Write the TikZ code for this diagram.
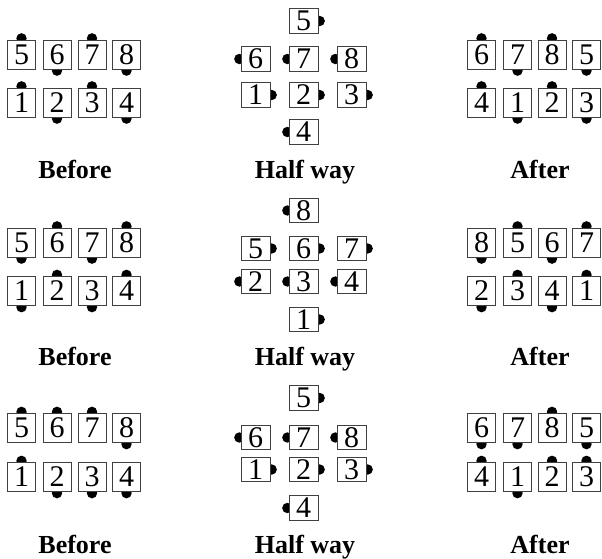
\documentclass[tikz,border=0pt]{standalone}
\usepackage{fontspec}
\setmainfont{Liberation Serif}
\usetikzlibrary{backgrounds,calc}
\tikzset{
  bcard/.style={draw=black!75, line width=0.9pt, fill=white, inner sep=0pt,
    minimum width=28pt, minimum height=29pt, font=\fontsize{30}{32}\selectfont},
  mcard/.style={bcard, minimum width=29pt, minimum height=24.5pt},
  lbl/.style={anchor=base, inner sep=0pt, font=\fontsize{26}{28}\selectfont\bfseries},
  knob/.style={fill=black}
}
\newcommand\crd[6]{% style, name, x, y, digit, anchor
  \node[#1] (#2) at (#3,#4) {#5};
  \begin{scope}[on background layer]\fill[knob] ($(#2.#6)!-1.2pt!(#2.center)$) circle [radius=5.2pt];\end{scope}}
\begin{document}
\begin{tikzpicture}[x=1pt,y=-1pt]
\useasboundingbox (0,0) rectangle (602,559);
% ---------- Panel 1 ----------
\crd{bcard}{aa5}{21.5}{54.5}{5}{north}
\crd{bcard}{aa6}{57}{54.5}{6}{south}
\crd{bcard}{aa7}{92}{54.5}{7}{north}
\crd{bcard}{aa8}{126.5}{54.5}{8}{south}
\crd{bcard}{aa1}{21.5}{102.5}{1}{north}
\crd{bcard}{aa2}{57}{102.5}{2}{south}
\crd{bcard}{aa3}{92}{102.5}{3}{north}
\crd{bcard}{aa4}{126.5}{102.5}{4}{south}
\crd{mcard}{ab5}{303.5}{21}{5}{east}
\crd{mcard}{ab6}{255.5}{59}{6}{west}
\crd{mcard}{ab7}{303.5}{59}{7}{west}
\crd{mcard}{ab8}{351.5}{59}{8}{west}
\crd{mcard}{ab1}{255.5}{95}{1}{east}
\crd{mcard}{ab2}{303.5}{95}{2}{east}
\crd{mcard}{ab3}{351.5}{95}{3}{east}
\crd{mcard}{ab4}{303.5}{132}{4}{west}
\crd{bcard}{ac6}{481.5}{54.5}{6}{north}
\crd{bcard}{ac7}{517.5}{54.5}{7}{south}
\crd{bcard}{ac8}{552}{54.5}{8}{north}
\crd{bcard}{ac5}{586.5}{54.5}{5}{south}
\crd{bcard}{ac4}{481.5}{102.5}{4}{north}
\crd{bcard}{ac1}{517.5}{102.5}{1}{south}
\crd{bcard}{ac2}{552}{102.5}{2}{north}
\crd{bcard}{ac3}{586.5}{102.5}{3}{south}
\node[lbl] (la1) at (75,178) {Before};
\node[lbl] (lb1) at (305,178) {Half way};
\node[lbl] (lc1) at (540,178) {After};
% ---------- Panel 2 ----------
\crd{bcard}{ba5}{21.5}{242.5}{5}{south}
\crd{bcard}{ba6}{57}{242.5}{6}{north}
\crd{bcard}{ba7}{92}{242.5}{7}{south}
\crd{bcard}{ba8}{126.5}{242.5}{8}{north}
\crd{bcard}{ba1}{21.5}{291}{1}{south}
\crd{bcard}{ba2}{57}{291}{2}{north}
\crd{bcard}{ba3}{92}{291}{3}{south}
\crd{bcard}{ba4}{126.5}{291}{4}{north}
\crd{mcard}{bb8}{303.5}{210.5}{8}{west}
\crd{mcard}{bb5}{255.5}{248.5}{5}{east}
\crd{mcard}{bb6}{303.5}{248.5}{6}{east}
\crd{mcard}{bb7}{351.5}{248.5}{7}{east}
\crd{mcard}{bb2}{255.5}{281.5}{2}{west}
\crd{mcard}{bb3}{303.5}{281.5}{3}{west}
\crd{mcard}{bb4}{351.5}{281.5}{4}{west}
\crd{mcard}{bb1}{303.5}{319.5}{1}{east}
\crd{bcard}{bc8}{481.5}{242.5}{8}{south}
\crd{bcard}{bc5}{517.5}{242.5}{5}{north}
\crd{bcard}{bc6}{552}{242.5}{6}{south}
\crd{bcard}{bc7}{586.5}{242.5}{7}{north}
\crd{bcard}{bc2}{481.5}{291}{2}{south}
\crd{bcard}{bc3}{517.5}{291}{3}{north}
\crd{bcard}{bc4}{552}{291}{4}{south}
\crd{bcard}{bc1}{586.5}{291}{1}{north}
\node[lbl] (la2) at (75,365) {Before};
\node[lbl] (lb2) at (305,365) {Half way};
\node[lbl] (lc2) at (540,365) {After};
% ---------- Panel 3 ----------
\crd{bcard}{ca5}{21.5}{428}{5}{north}
\crd{bcard}{ca6}{57}{428}{6}{north}
\crd{bcard}{ca7}{92}{428}{7}{north}
\crd{bcard}{ca8}{126.5}{428}{8}{south}
\crd{bcard}{ca1}{21.5}{477}{1}{north}
\crd{bcard}{ca2}{57}{477}{2}{south}
\crd{bcard}{ca3}{92}{477}{3}{south}
\crd{bcard}{ca4}{126.5}{477}{4}{south}
\crd{mcard}{cb5}{303.5}{398}{5}{east}
\crd{mcard}{cb6}{255.5}{437.5}{6}{west}
\crd{mcard}{cb7}{303.5}{437.5}{7}{west}
\crd{mcard}{cb8}{351.5}{437.5}{8}{west}
\crd{mcard}{cb1}{255.5}{469.5}{1}{east}
\crd{mcard}{cb2}{303.5}{469.5}{2}{east}
\crd{mcard}{cb3}{351.5}{469.5}{3}{east}
\crd{mcard}{cb4}{303.5}{508}{4}{west}
\crd{bcard}{cc6}{481.5}{428}{6}{south}
\crd{bcard}{cc7}{517.5}{428}{7}{south}
\crd{bcard}{cc8}{552}{428}{8}{north}
\crd{bcard}{cc5}{586.5}{428}{5}{south}
\crd{bcard}{cc4}{481.5}{477}{4}{north}
\crd{bcard}{cc1}{517.5}{477}{1}{south}
\crd{bcard}{cc2}{552}{477}{2}{north}
\crd{bcard}{cc3}{586.5}{477}{3}{north}
\node[lbl] (la3) at (75,553) {Before};
\node[lbl] (lb3) at (305,553) {Half way};
\node[lbl] (lc3) at (540,553) {After};
\end{tikzpicture}
\end{document}
